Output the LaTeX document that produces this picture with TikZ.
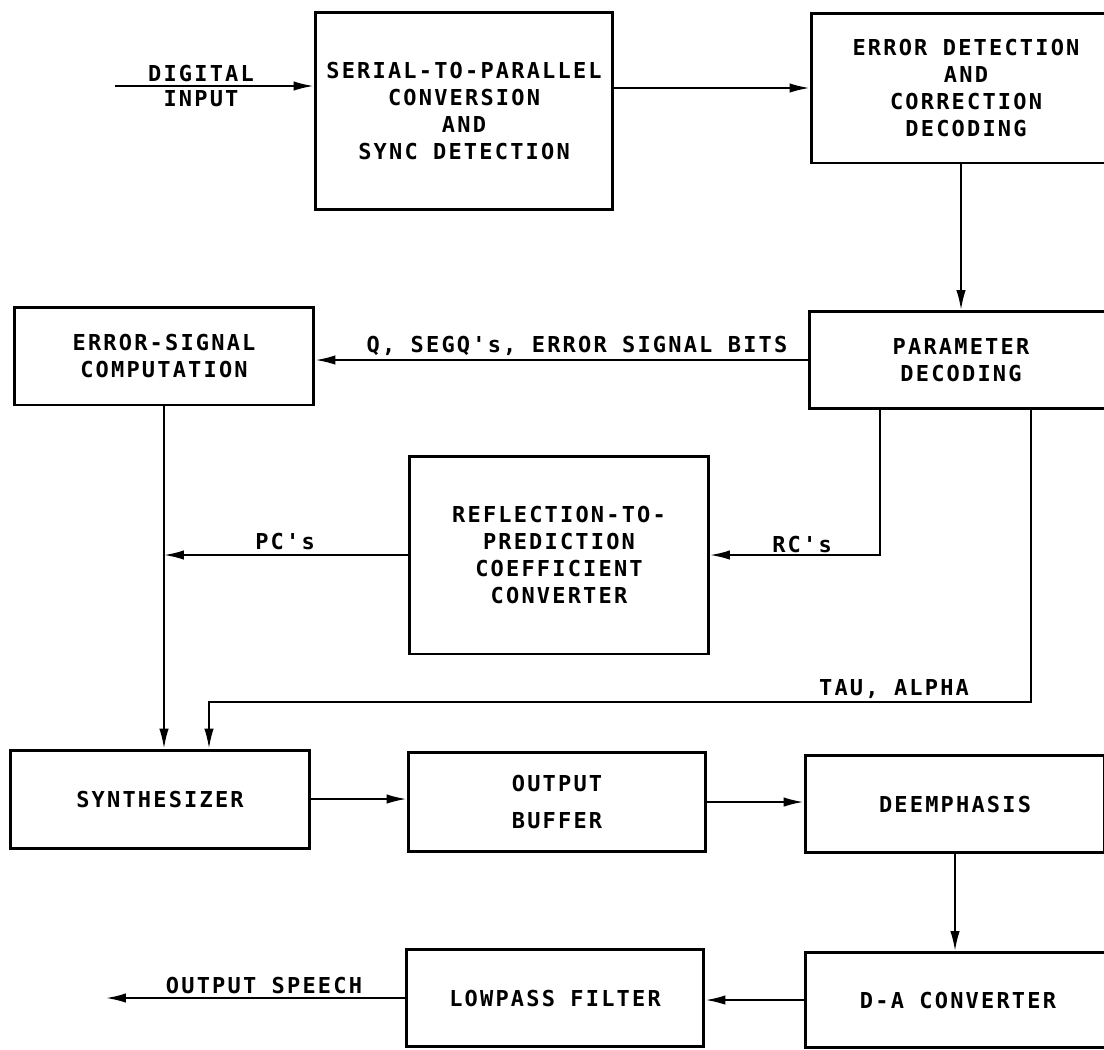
\documentclass[tikz,border=0pt]{standalone}
\usepackage{fontspec}
\usepackage{tikz}
\usetikzlibrary{arrows.meta}
\newfontfamily\plotfont{DejaVu Sans Mono}[LetterSpace=10]
\tikzset{
  vcblock/.style={rectangle, draw, line width=1.7pt, inner sep=0pt,
                  align=center, font=\fontsize{12.5}{15.4}\plotfont\bfseries},
  vcsize/.style 2 args={minimum width=#1, minimum height=#2},
  vcflow/.style={draw, line width=1.1pt,
                 -{Latex[length=0.4cm, width=0.19cm]}},
  vclabel/.style={inner sep=0.5pt, font=\fontsize{12.5}{15.4}\plotfont\bfseries}
}

\begin{document}
\begin{tikzpicture}[x=0.02cm, y=-0.02cm]
  \useasboundingbox (0,0) rectangle (1104,1049);

  \node[vcblock, vcsize={5.96cm}{3.96cm}] (serial) at (464,111)
    {SERIAL-TO-PARALLEL\\CONVERSION\\AND\\SYNC DETECTION};
  \node[vcblock, vcsize={6.2cm}{3.0cm}] (errdet) at (966,88)
    {ERROR DETECTION\\AND\\CORRECTION\\DECODING};
  \node[vcblock, vcsize={6.08cm}{1.94cm}] (param) at (961,360)
    {PARAMETER\\DECODING};
  \node[vcblock, vcsize={6.0cm}{1.96cm}] (errsig) at (164,356)
    {ERROR-SIGNAL\\COMPUTATION};
  \node[vcblock, vcsize={5.98cm}{3.96cm}] (refl) at (559,555)
    {REFLECTION-TO-\\PREDICTION\\COEFFICIENT\\CONVERTER};
  \node[vcblock, vcsize={5.98cm}{1.96cm}] (synth) at (160,799)
    {SYNTHESIZER};
  \node[vcblock, vcsize={5.96cm}{1.98cm}] (buffer) at (557,802)
    {OUTPUT\\[0.2cm]BUFFER};
  \node[vcblock, vcsize={6.0cm}{1.94cm}] (deemph) at (955,804)
    {DEEMPHASIS};
  \node[vcblock, vcsize={6.12cm}{1.9cm}] (dac) at (958,1000)
    {D-A CONVERTER};
  \node[vcblock, vcsize={5.96cm}{1.94cm}] (lowpass) at (555,998)
    {LOWPASS FILTER};

  \node[vclabel, anchor=south] (digital) at (201,83) {DIGITAL};
  \node[vclabel, anchor=north] (input) at (201,89) {INPUT};
  \node[vclabel, anchor=south] (qbits) at (577,357)
    {Q, SEGQ's, ERROR SIGNAL BITS};
  \node[vclabel, anchor=south] (pcs) at (285,551) {PC's};
  \node[vclabel, anchor=south] (rcs) at (802,554) {RC's};
  \node[vclabel, anchor=south] (taualpha) at (894,700) {TAU, ALPHA};
  \node[vclabel, anchor=south] (speech) at (264,995) {OUTPUT SPEECH};

  \coordinate (digin) at (115,86);
  \coordinate (rctap) at (880,409);
  \coordinate (tautap) at (1031,409);
  \coordinate (taudrop) at (209,702);
  \coordinate (speechout) at (106,998);

  \draw[vcflow] (digin) -- (digin -| serial.west);
  \draw[vcflow] (serial.east |- errdet.west) -- (errdet.west);
  \draw[vcflow] (param.north |- errdet.south) -- (param.north);
  \draw[vcflow] (param.west) -- (param.west -| errsig.east);
  \draw[vcflow] (rctap) |- (refl.east);
  \draw[vcflow] (refl.west) -- (refl.west -| errsig.south);
  \draw[vcflow] (errsig.south) -- (errsig.south |- synth.north);
  \draw[vcflow] (tautap) |- (taudrop) -- (taudrop |- synth.north);
  \draw[vcflow] (synth.east) -- (synth.east -| buffer.west);
  \draw[vcflow] (buffer.east) -- (buffer.east -| deemph.west);
  \draw[vcflow] (deemph.south) -- (deemph.south |- dac.north);
  \draw[vcflow] (dac.west) -- (dac.west -| lowpass.east);
  \draw[vcflow] (lowpass.west) -- (speechout);
\end{tikzpicture}
\end{document}
